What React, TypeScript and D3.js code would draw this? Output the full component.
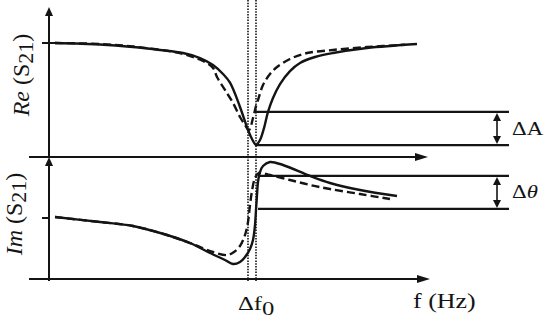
import React from "react";
import * as d3 from "d3";

// frequency (arbitrary units, 0 = vertical axis)
const reSolidF = [6, 51, 84, 111, 134, 151, 164, 174, 181, 191, 199, 203, 207, 211, 215, 219, 224, 231, 241, 251, 266, 284, 318, 368];
const reSolidV = [1.0, 0.987, 0.965, 0.939, 0.912, 0.868, 0.807, 0.728, 0.652, 0.439, 0.237, 0.158, 0.105, 0.149, 0.254, 0.395, 0.518, 0.64, 0.754, 0.825, 0.877, 0.912, 0.956, 0.991];
const reDashF = [6, 51, 84, 134, 156, 164, 168, 176, 184, 191, 196, 200, 204, 207, 209, 214, 221, 228, 241, 258, 284, 318, 356];
const reDashV = [1.0, 0.991, 0.969, 0.904, 0.833, 0.781, 0.702, 0.588, 0.474, 0.351, 0.281, 0.237, 0.342, 0.447, 0.5, 0.632, 0.728, 0.789, 0.86, 0.912, 0.939, 0.965, 0.985];
const imSolidF = [6, 51, 84, 118, 141, 161, 176, 184, 191, 196, 201, 204, 206, 207, 208, 209, 211, 214, 221, 234, 261, 281, 311, 348];
const imSolidV = [0.016, -0.066, -0.131, -0.279, -0.41, -0.574, -0.689, -0.754, -0.721, -0.639, -0.508, -0.361, -0.115, 0.131, 0.377, 0.59, 0.754, 0.852, 0.918, 0.869, 0.689, 0.574, 0.459, 0.361];
const imDashF = [6, 51, 84, 118, 141, 164, 178, 185, 191, 196, 199, 201, 203, 206, 210, 221, 241, 261, 281, 311, 341];
const imDashV = [0.016, -0.066, -0.131, -0.279, -0.41, -0.557, -0.607, -0.557, -0.459, -0.279, -0.066, 0.213, 0.443, 0.656, 0.738, 0.705, 0.623, 0.541, 0.475, 0.393, 0.311];
const markers = [199, 207];
const reLevels = [0.395, 0.105];
const imLevels = [0.689, 0.148];
const levelStart = [206, 209];
const levelEnd = 460;
const arrowF = 448;

const FONT = "'Liberation Serif', 'Times New Roman', serif";
const INK = "#141414";

export default function App() {
  const x = d3.scaleLinear().domain([0, 380]).range([49, 429]);
  const yRe = d3.scaleLinear().domain([0, 1]).range([157, 43]);
  const yIm = d3.scaleLinear().domain([-1, 1]).range([279, 157]);
  const curve = d3.curveCatmullRom.alpha(0.5);
  const lineRe = d3.line<[number, number]>().x((d) => x(d[0])).y((d) => yRe(d[1])).curve(curve);
  const lineIm = d3.line<[number, number]>().x((d) => x(d[0])).y((d) => yIm(d[1])).curve(curve);
  const zip = (a: number[], b: number[]) => a.map((v, i) => [v, b[i]] as [number, number]);

  const x0 = x(0);
  const ax = (xx: number, yy: number, dir: "up" | "right") => {
    if (dir === "up") return `M${xx},${yy} L${xx - 4},${yy + 9} L${xx + 4},${yy + 9} Z`;
    return `M${xx},${yy} L${xx - 13},${yy - 4} L${xx - 13},${yy + 4} Z`;
  };
  const dbl = (xx: number, y1: number, y2: number) => (
    <g>
      <line x1={xx} x2={xx} y1={y1 + 4} y2={y2 - 4} stroke={INK} strokeWidth={1.6} />
      <path d={`M${xx},${y1} L${xx - 4},${y1 + 8} L${xx + 4},${y1 + 8} Z`} fill={INK} />
      <path d={`M${xx},${y2} L${xx - 4},${y2 - 8} L${xx + 4},${y2 - 8} Z`} fill={INK} />
    </g>
  );

  return (
    <svg width={545} height={319} style={{ position: "absolute", left: 0, top: 0, background: "#fff" }}>
      {markers.map((m) => (
        <line key={m} x1={x(m)} x2={x(m)} y1={0} y2={281} stroke="#222" strokeWidth={1.7} strokeDasharray="1.5,1.3" />
      ))}
      <line x1={x0} x2={x0} y1={14} y2={yRe(0)} stroke={INK} strokeWidth={2} />
      <path d={ax(x0, 7, "up")} fill={INK} />
      <line x1={x(-20)} x2={x(366)} y1={yRe(0)} y2={yRe(0)} stroke={INK} strokeWidth={2.2} />
      <path d={ax(x(379), yRe(0), "right")} fill={INK} />
      <line x1={x(-7)} x2={x(6)} y1={yRe(1)} y2={yRe(1)} stroke={INK} strokeWidth={2} />
      <line x1={x0} x2={x0} y1={yIm(1) + 6} y2={yIm(-1) + 2} stroke={INK} strokeWidth={2} />
      <path d={ax(x0, yIm(1), "up")} fill={INK} />
      <line x1={x(-20)} x2={x(368)} y1={yIm(-1)} y2={yIm(-1)} stroke={INK} strokeWidth={2.2} />
      <path d={ax(x(381), yIm(-1), "right")} fill={INK} />
      <line x1={x(-7)} x2={x(1)} y1={yIm(0)} y2={yIm(0)} stroke={INK} strokeWidth={2} />

      {reLevels.map((v, i) => (
        <line key={"r" + i} x1={x(levelStart[0] + i)} x2={x(levelEnd)} y1={yRe(v)} y2={yRe(v)} stroke={INK} strokeWidth={2.2} />
      ))}
      {imLevels.map((v, i) => (
        <line key={"i" + i} x1={x(levelStart[1])} x2={x(levelEnd)} y1={yIm(v)} y2={yIm(v)} stroke={INK} strokeWidth={2.2} />
      ))}
      {dbl(x(arrowF), yRe(reLevels[0]) + 1, yRe(reLevels[1]) - 1)}
      {dbl(x(arrowF), yIm(imLevels[0]) + 1, yIm(imLevels[1]) - 1)}

      <path d={lineRe(zip(reSolidF, reSolidV)) || ""} fill="none" stroke={INK} strokeWidth={2.4} />
      <path d={lineRe(zip(reDashF, reDashV)) || ""} fill="none" stroke={INK} strokeWidth={2.4} strokeDasharray="8,4" />
      <path d={lineIm(zip(imSolidF, imSolidV)) || ""} fill="none" stroke={INK} strokeWidth={2.4} />
      <path d={lineIm(zip(imDashF, imDashV)) || ""} fill="none" stroke={INK} strokeWidth={2.4} strokeDasharray="8,4" />

      <g fontFamily={FONT} fill={INK}>
        <text transform="translate(29,75) rotate(-90)" fontSize={24} textAnchor="middle">
          <tspan fontStyle="italic">Re</tspan>
          <tspan> (S</tspan>
          <tspan fontSize={22} dy={4}>21</tspan>
          <tspan dy={-4}>)</tspan>
        </text>
        <text transform="translate(22,214) rotate(-90)" fontSize={24} textAnchor="middle">
          <tspan fontStyle="italic">Im</tspan>
          <tspan> (S</tspan>
          <tspan fontSize={22} dy={4}>21</tspan>
          <tspan dy={-4}>)</tspan>
        </text>
        <text transform="translate(512,135) scale(1.2,1)" fontSize={19}>ΔA</text>
        <text transform="translate(512,198) scale(1.2,1)" fontSize={19}>
          <tspan>Δ</tspan>
          <tspan fontStyle="italic">θ</tspan>
        </text>
        <text transform="translate(238,310) scale(1.3,1)" fontSize={19}>
          <tspan>Δf</tspan>
          <tspan dy={5}>0</tspan>
        </text>
        <text transform="translate(413,308) scale(1.3,1)" fontSize={20}>f (Hz)</text>
      </g>
    </svg>
  );
}
